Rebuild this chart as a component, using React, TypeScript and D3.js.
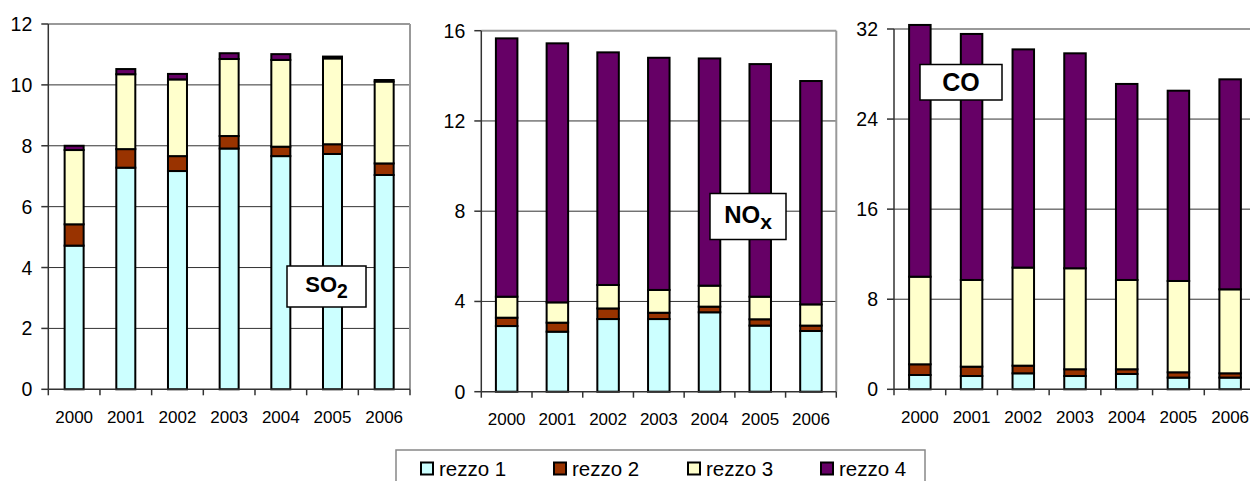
import React from 'react';
import * as d3 from 'd3';

const years = ['2000', '2001', '2002', '2003', '2004', '2005', '2006'];
const seriesNames = ['rezzo 1', 'rezzo 2', 'rezzo 3', 'rezzo 4'];
const seriesColors = ['#CCFFFF', '#993300', '#FFFFCC', '#660066'];

const so2R1 = [4.72, 7.28, 7.17, 7.91, 7.66, 7.73, 7.04];
const so2R2 = [0.70, 0.61, 0.49, 0.41, 0.31, 0.32, 0.38];
const so2R3 = [2.44, 2.46, 2.52, 2.53, 2.85, 2.82, 2.69];
const so2R4 = [0.14, 0.17, 0.18, 0.19, 0.19, 0.06, 0.05];

const noxR1 = [2.91, 2.66, 3.22, 3.22, 3.52, 2.93, 2.69];
const noxR2 = [0.37, 0.40, 0.47, 0.28, 0.25, 0.28, 0.24];
const noxR3 = [0.93, 0.90, 1.04, 1.01, 0.93, 1.00, 0.94];
const noxR4 = [11.45, 11.48, 10.31, 10.29, 10.07, 10.31, 9.90];

const coR1 = [1.27, 1.18, 1.42, 1.18, 1.36, 1.04, 1.04];
const coR2 = [0.95, 0.83, 0.68, 0.60, 0.42, 0.47, 0.38];
const coR3 = [7.78, 7.70, 8.71, 8.97, 7.93, 8.11, 7.46];
const coR4 = [22.36, 21.85, 19.38, 19.09, 17.41, 16.90, 18.65];

const so2Ticks = [0, 2, 4, 6, 8, 10, 12];
const noxTicks = [0, 4, 8, 12, 16];
const coTicks = [0, 8, 16, 24, 32];

const FONT = '"Liberation Sans", Arimo, Arial, sans-serif';
const keys = ['r1', 'r2', 'r3', 'r4'];

type Layout = {
  left: number; right: number; top: number; bottom: number; barW: number;
  box: { x: number; y: number; w: number; h: number; fs: number; base: number; main: string; sub: string; subDy: number };
};

const layouts: Layout[] = [
  { left: 48.3, right: 410, top: 24, bottom: 389.3, barW: 19,
    box: { x: 287, y: 266, w: 79, h: 41, fs: 22, base: 291.5, main: 'SO', sub: '2', subDy: 6 } },
  { left: 481.3, right: 836.3, top: 30.7, bottom: 391.7, barW: 21.5,
    box: { x: 710, y: 193.5, w: 76, h: 46, fs: 24, base: 222.5, main: 'NO', sub: 'x', subDy: 6 } },
  { left: 894, right: 1256, top: 29, bottom: 389.3, barW: 21.5,
    box: { x: 920, y: 64.5, w: 82, h: 35.5, fs: 25, base: 90.5, main: 'CO', sub: '', subDy: 0 } },
];

function Panel({ layout, series, ticks }: { layout: Layout; series: number[][]; ticks: number[] }) {
  const x = d3.scaleBand<string>().domain(years).range([layout.left, layout.right]);
  const y = d3.scaleLinear().domain([0, ticks[ticks.length - 1]]).range([layout.bottom, layout.top]);
  const table = years.map((yr, i) => ({ year: yr, r1: series[0][i], r2: series[1][i], r3: series[2][i], r4: series[3][i] }));
  const stacked = d3.stack<any>().keys(keys)(table);
  const bw = x.bandwidth();
  const b = layout.box;
  return (
    <g>
      {ticks.slice(1, -1).map((t) => (
        <line key={'g' + t} x1={layout.left} x2={layout.right} y1={y(t)} y2={y(t)} stroke="#333" strokeWidth={1} />
      ))}
      <line x1={layout.left} x2={layout.right} y1={layout.top} y2={layout.top} stroke="#999" strokeWidth={2} />
      <line x1={layout.right} x2={layout.right} y1={layout.top} y2={layout.bottom} stroke="#999" strokeWidth={2} />
      {stacked.map((s, si) => (
        <g key={'s' + si}>
          {s.map((d, i) => {
            const cx = (x(years[i]) as number) + bw / 2;
            return (
              <rect key={i} x={cx - layout.barW / 2} y={y(d[1])} width={layout.barW} height={y(d[0]) - y(d[1])}
                fill={seriesColors[si]} stroke="#000" strokeWidth={2} />
            );
          })}
        </g>
      ))}
      <line x1={layout.left} x2={layout.left} y1={layout.top} y2={layout.bottom} stroke="#333" strokeWidth={1.5} />
      <line x1={layout.left} x2={layout.right} y1={layout.bottom} y2={layout.bottom} stroke="#333" strokeWidth={1.5} />
      {ticks.map((t) => (
        <g key={'t' + t}>
          <line x1={layout.left - 7} x2={layout.left} y1={y(t)} y2={y(t)} stroke="#333" strokeWidth={1.5} />
          <text x={layout.left - 16} y={y(t)} dy="0.36em" textAnchor="end" fontSize={19.5} fontFamily={FONT} fill="#000">{t}</text>
        </g>
      ))}
      {years.map((yr) => (
        <line key={'xt' + yr} x1={(x(yr) as number)} x2={(x(yr) as number)} y1={layout.bottom} y2={layout.bottom + 6} stroke="#333" strokeWidth={1.5} />
      ))}
      <line x1={layout.right} x2={layout.right} y1={layout.bottom} y2={layout.bottom + 6} stroke="#333" strokeWidth={1.5} />
      {years.map((yr) => (
        <text key={'xl' + yr} x={(x(yr) as number) + bw / 2} y={layout.bottom + 33.5} textAnchor="middle" fontSize={17} fontFamily={FONT} fill="#000">{yr}</text>
      ))}
      <rect x={b.x} y={b.y} width={b.w} height={b.h} fill="#fff" stroke="#000" strokeWidth={1.5} />
      <text x={b.x + b.w / 2} y={b.base} textAnchor="middle" fontSize={b.fs} fontWeight="bold" fontFamily={FONT} fill="#000">
        {b.main}
        {b.sub ? <tspan fontSize={b.fs * 0.88} dy={b.subDy}>{b.sub}</tspan> : null}
      </text>
    </g>
  );
}

const legendX = [420, 553, 687, 820];

export default function App() {
  return (
    <svg width={1250} height={481} style={{ position: 'absolute', left: 0, top: 0, background: '#fff' }}>
      <rect x={0} y={0} width={1250} height={481} fill="#fff" />
      <Panel layout={layouts[0]} series={[so2R1, so2R2, so2R3, so2R4]} ticks={so2Ticks} />
      <Panel layout={layouts[1]} series={[noxR1, noxR2, noxR3, noxR4]} ticks={noxTicks} />
      <Panel layout={layouts[2]} series={[coR1, coR2, coR3, coR4]} ticks={coTicks} />
      <rect x={396} y={450} width={529} height={40} fill="#fff" stroke="#888" strokeWidth={1.5} />
      {seriesNames.map((n, i) => (
        <g key={n}>
          <rect x={legendX[i] + 1} y={462.5} width={12} height={12} fill={seriesColors[i]} stroke="#000" strokeWidth={2} />
          <text x={legendX[i] + 19} y={476} fontSize={20.5} fontFamily={FONT} fill="#000">{n}</text>
        </g>
      ))}
    </svg>
  );
}
